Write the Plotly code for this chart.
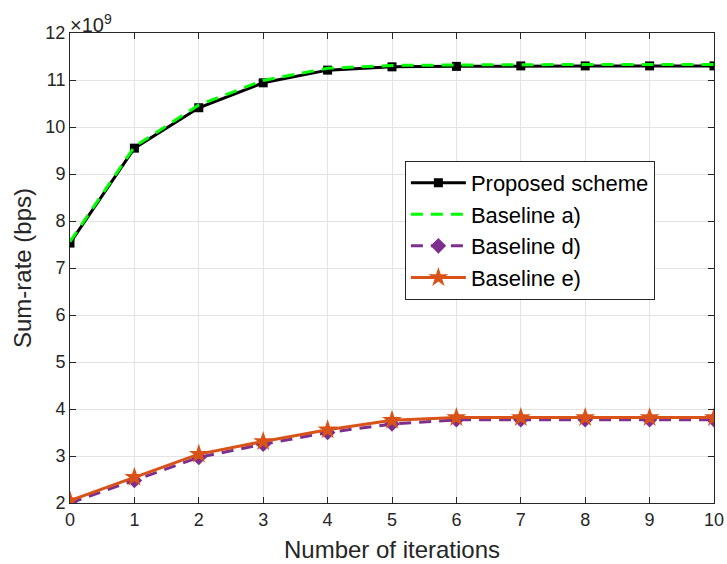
import plotly.graph_objects as go

iterations = [0, 1, 2, 3, 4, 5, 6, 7, 8, 9, 10]
# sum-rate values in units of 1e9 bps
proposed = [7.53, 9.55, 10.41, 10.94, 11.21, 11.28, 11.29, 11.30, 11.30, 11.30, 11.30]
baseline_a = [7.56, 9.58, 10.47, 10.99, 11.25, 11.31, 11.32, 11.33, 11.33, 11.33, 11.33]
baseline_d = [2.00, 2.48, 2.97, 3.25, 3.50, 3.68, 3.77, 3.77, 3.77, 3.77, 3.77]
baseline_e = [2.05, 2.55, 3.04, 3.31, 3.56, 3.76, 3.82, 3.82, 3.82, 3.82, 3.82]
y_ticks = [2, 3, 4, 5, 6, 7, 8, 9, 10, 11, 12]
x_ticks = iterations

FONT = "Liberation Sans, Arial, Helvetica, sans-serif"
TXT = "#262626"

fig = go.Figure()
fig.add_trace(go.Scatter(x=iterations, y=proposed, name="Proposed scheme",
                         mode="lines+markers",
                         line=dict(color="black", width=3),
                         marker=dict(symbol="square", size=9, color="black")))
fig.add_trace(go.Scatter(x=iterations, y=baseline_a, name="Baseline a)",
                         mode="lines",
                         line=dict(color="#00FF00", width=3, dash="12px,8px")))
fig.add_trace(go.Scatter(x=iterations, y=baseline_d, name="Baseline d)",
                         mode="lines+markers",
                         line=dict(color="#7E2F8E", width=3, dash="12px,8px"),
                         marker=dict(symbol="diamond", size=12, color="#7E2F8E")))
fig.add_trace(go.Scatter(x=iterations, y=baseline_e, name="Baseline e)",
                         mode="lines+markers",
                         line=dict(color="#D95319", width=3),
                         marker=dict(symbol="star", size=15, color="#D95319")))

fig.update_layout(
    width=727, height=564,
    margin=dict(l=70, r=13, t=33, b=61, autoexpand=False),
    paper_bgcolor="white", plot_bgcolor="white",
    font=dict(family=FONT, size=18, color=TXT),
    showlegend=True,
    legend=dict(x=0.52, y=0.728, xanchor="left", yanchor="top",
                bgcolor="white", bordercolor=TXT, borderwidth=1,
                font=dict(family=FONT, size=22, color="black"),
                itemwidth=55, tracegroupgap=0),
    xaxis=dict(range=[0, 10], tickvals=x_ticks, showgrid=True,
               gridcolor="#e3e3e3", gridwidth=1, zeroline=False,
               showline=True, linecolor=TXT, linewidth=1, mirror="ticks",
               ticks="inside", ticklen=6, tickcolor=TXT,
               tickfont=dict(size=18, color=TXT),
               title=dict(text="Number of iterations", font=dict(size=24, color=TXT), standoff=12)),
    yaxis=dict(range=[2, 12], tickvals=y_ticks, showgrid=True,
               gridcolor="#e3e3e3", gridwidth=1, zeroline=False,
               showline=True, linecolor=TXT, linewidth=1, mirror="ticks",
               ticks="inside", ticklen=6, tickcolor=TXT,
               tickfont=dict(size=18, color=TXT),
               title=dict(text="Sum-rate (bps)", font=dict(size=24, color=TXT), standoff=6)),
)

fig.add_annotation(x=0, y=1, xref="paper", yref="paper", xanchor="left", yanchor="bottom",
                   text="×10<sup>9</sup>", showarrow=False, xshift=-2, yshift=-5,
                   font=dict(family=FONT, size=20, color=TXT))

fig.write_html("out.html",
               config={"displayModeBar": False},
               post_script="document.body.style.margin='0';"
                           "document.documentElement.style.overflow='hidden';"
                           "document.body.style.overflow='hidden';")
